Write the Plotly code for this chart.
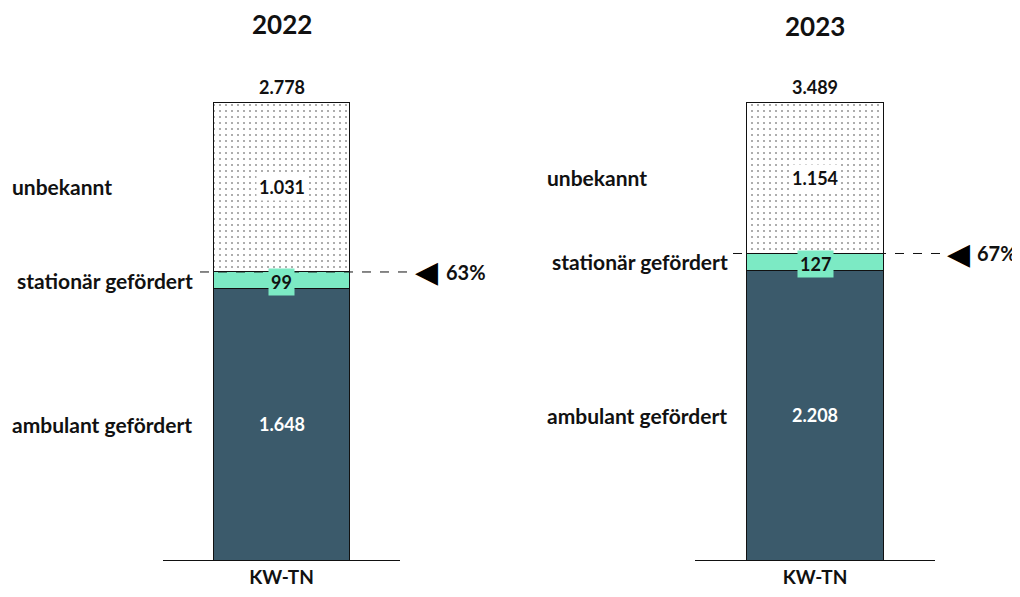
import plotly.graph_objects as go

years = ["2022", "2023"]
category = "KW-TN"
ambulant = [1648, 2208]
stationaer = [99, 127]
unbekannt = [1031, 1154]
totals = [2778, 3489]
seg_names = ["ambulant gefördert", "stationär gefördert", "unbekannt"]

DARK = "#3b5a6b"
MINT = "#7ceac4"
FONT = "Lato"

# figure placed at (8,8) inside page by default body margin
W, H = 1012, 589
OFF = 8


def px(X):
    return (X - OFF) / W


def py(Y):
    return 1 - (Y - OFF) / H


def de(n):
    return f"{n:,}".replace(",", ".")


fig = go.Figure()

xdom = [[px(163), px(400)], [px(695), px(935)]]
ydom = [py(560), py(102)]
lab_x = [px(10), px(545)]
title_y = [py(24), py(26)]
dash_start = [px(200), px(733)]
dash_end = [px(408), px(942)]
tri_x = [px(426), px(958)]
pct_x = [px(444), px(975)]

annotations = []
shapes = []
for i in range(2):
    xa = "x" if i == 0 else "x2"
    ya = "y" if i == 0 else "y2"
    vals = [ambulant[i], stationaer[i], unbekannt[i]]
    fig.add_trace(go.Bar(x=[0], y=[ambulant[i]], width=0.57, xaxis=xa, yaxis=ya,
                         marker=dict(color=DARK, line=dict(color="#111", width=1)),
                         showlegend=False, hoverinfo="skip"))
    fig.add_trace(go.Bar(x=[0], y=[stationaer[i]], width=0.57, xaxis=xa, yaxis=ya,
                         marker=dict(color=MINT, line=dict(color="#111", width=1)),
                         showlegend=False, hoverinfo="skip"))
    fig.add_trace(go.Bar(x=[0], y=[unbekannt[i]], width=0.57, xaxis=xa, yaxis=ya,
                         marker=dict(color="white", line=dict(color="#111", width=1),
                                     pattern=dict(shape=".", fgcolor="#333", bgcolor="white",
                                                  size=6, solidity=0.1)),
                         showlegend=False, hoverinfo="skip"))
    bottoms = [0, ambulant[i], ambulant[i] + stationaer[i]]
    mids = [b + v / 2 for b, v in zip(bottoms, vals)]
    # segment value labels
    annotations.append(dict(x=0, y=mids[0], xref=xa, yref=ya, text=f"<b>{de(vals[0])}</b>",
                            showarrow=False, xanchor="center",
                            font=dict(family=FONT, size=18, color="white")))
    annotations.append(dict(x=0, y=mids[1], xref=xa, yref=ya, text=f"<b>{de(vals[1])}</b>",
                            showarrow=False, bgcolor=MINT, borderpad=2, yshift=-2, xanchor="center",
                            font=dict(family=FONT, size=18, color="#111")))
    annotations.append(dict(x=0, y=mids[2], xref=xa, yref=ya, text=f"<b>{de(vals[2])}</b>",
                            showarrow=False, bgcolor="white", borderpad=2, xanchor="center",
                            font=dict(family=FONT, size=18, color="#111")))
    # total
    annotations.append(dict(x=0, y=totals[i], xref=xa, yref=ya, text=f"<b>{de(totals[i])}</b>",
                            showarrow=False, yanchor="bottom", yshift=2, xanchor="center",
                            font=dict(family=FONT, size=18, color="#111")))
    # category labels
    for k, name in enumerate(seg_names):
        annotations.append(dict(x=lab_x[i] + (px(15) - px(10) if k == 1 else 0), y=mids[k],
                                xref="paper", yref=ya, text=f"<b>{name}</b>",
                                showarrow=False, xanchor="left", yanchor="middle",
                                font=dict(family=FONT, size=21, color="#111")))
    # title
    annotations.append(dict(x=(xdom[i][0] + xdom[i][1]) / 2, y=title_y[i], xref="paper", yref="paper",
                            text=f"<b>{years[i]}</b>", showarrow=False,
                            xanchor="center", yanchor="middle",
                            font=dict(family=FONT, size=26, color="#111")))
    # dashed line + marker + percentage
    known = ambulant[i] + stationaer[i]
    pct = round(known / totals[i] * 100)
    shapes.append(dict(type="line", xref="paper", yref=ya, x0=dash_start[i], x1=dash_end[i],
                       y0=known, y1=known, line=dict(color="#111", width=1, dash="dash")))
    annotations.append(dict(x=tri_x[i], y=known, xref="paper", yref=ya, text="◀",
                            showarrow=False, xanchor="center", yanchor="middle",
                            font=dict(family="DejaVu Sans", size=30, color="#000")))
    annotations.append(dict(x=pct_x[i], y=known, xref="paper", yref=ya, text=f"<b>{pct}%</b>",
                            showarrow=False, xanchor="left", yanchor="middle",
                            font=dict(family=FONT, size=20, color="#111")))

axis_common = dict(range=[-0.5, 0.5], tickvals=[0], ticktext=[f"<b>{category}</b>"],
                   showline=True, linecolor="#111", linewidth=1, showgrid=False, zeroline=False,
                   ticks="", tickfont=dict(family=FONT, size=19, color="#111"), fixedrange=True)

fig.update_layout(
    barmode="stack", width=W, height=H,
    margin=dict(l=0, r=0, t=0, b=0),
    paper_bgcolor="white", plot_bgcolor="white",
    annotations=annotations, shapes=shapes,
    xaxis=dict(domain=xdom[0], anchor="y", **axis_common),
    xaxis2=dict(domain=xdom[1], anchor="y2", **axis_common),
    yaxis=dict(domain=ydom, range=[0, totals[0]], visible=False, anchor="x"),
    yaxis2=dict(domain=ydom, range=[0, totals[1]], visible=False, anchor="x2"),
)

fig.write_html("out.html")
